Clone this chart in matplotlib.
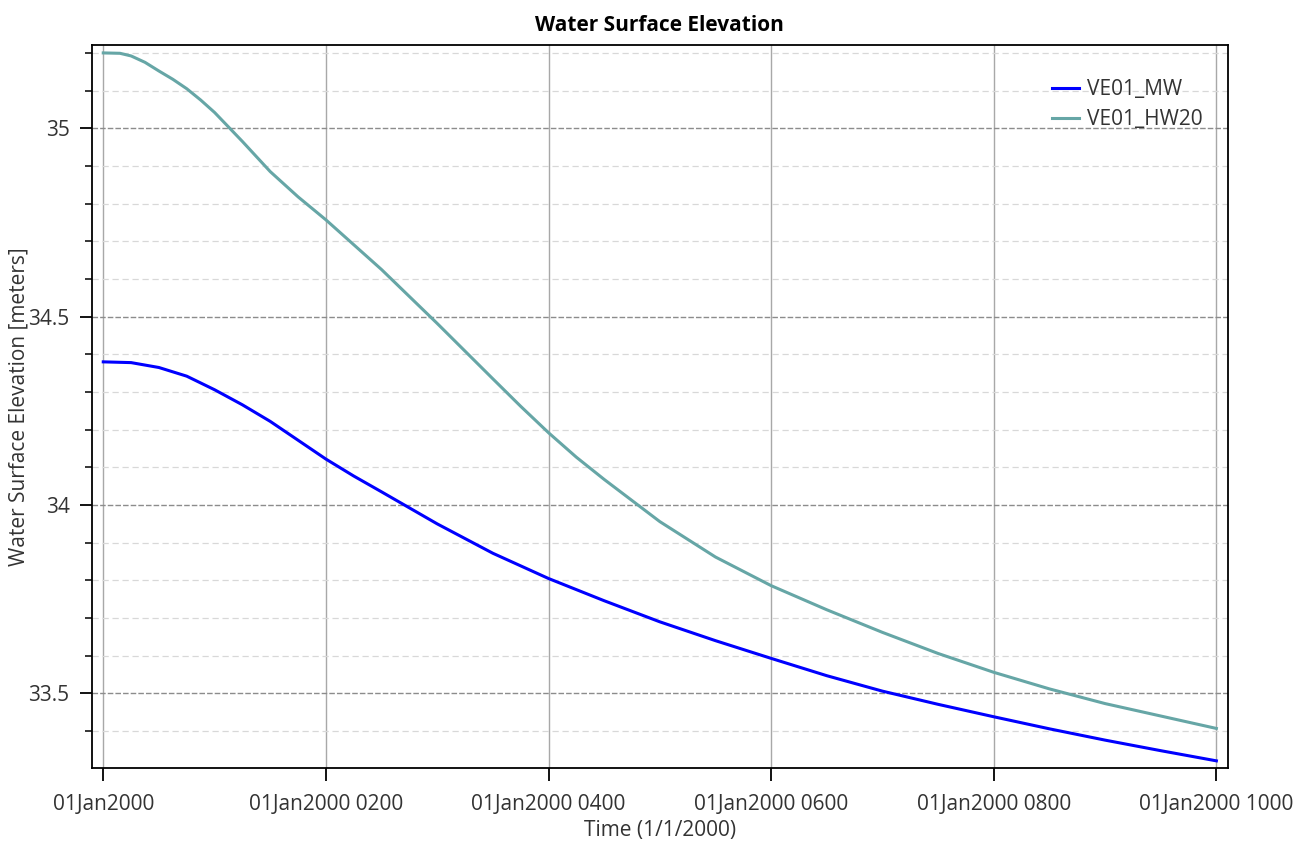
import numpy as np
import matplotlib
matplotlib.use('Agg')
import matplotlib.pyplot as plt
from matplotlib.ticker import MultipleLocator

# hours after 01Jan2000 0000
hours_mw = [0, 0.25, 0.5, 0.75, 1, 1.25, 1.5, 1.75, 2, 2.25, 2.5, 3, 3.5,
            4, 4.5, 5, 5.5, 6, 6.5, 7, 7.5, 8, 8.5, 9, 9.5, 10]
ve01_mw = [34.380, 34.378, 34.365, 34.342, 34.306, 34.266, 34.222, 34.172,
           34.122, 34.077, 34.035, 33.950, 33.872, 33.805, 33.746, 33.690,
           33.640, 33.593, 33.547, 33.506, 33.471, 33.438, 33.406, 33.376,
           33.348, 33.321]

hours_hw = [0, 0.15, 0.25, 0.375, 0.5, 0.625, 0.75, 0.875, 1, 1.25, 1.5,
            1.75, 2, 2.5, 3, 3.5, 3.75, 4, 4.25, 4.5, 5, 5.5, 6, 6.5, 7,
            7.5, 8, 8.5, 9, 9.5, 10]
ve01_hw20 = [35.200, 35.199, 35.192, 35.175, 35.152, 35.130, 35.105, 35.075,
             35.042, 34.965, 34.885, 34.818, 34.757, 34.625, 34.482, 34.335,
             34.262, 34.192, 34.127, 34.068, 33.956, 33.862, 33.786, 33.722,
             33.662, 33.606, 33.556, 33.512, 33.473, 33.440, 33.407]

tick_hours = [0, 2, 4, 6, 8, 10]
tick_labels = ['01Jan2000', '01Jan2000 0200', '01Jan2000 0400',
               '01Jan2000 0600', '01Jan2000 0800', '01Jan2000 1000']

plt.rcParams['font.family'] = ['Open Sans', 'DejaVu Sans']

fig = plt.figure(figsize=(12.95, 8.46), dpi=100)
ax = fig.add_axes([0.0708, 0.0922, 0.8775, 0.8546])
ax.set_xlim(-0.104, 10.105)
ax.set_ylim(33.302, 35.221)

ax.plot(hours_mw, ve01_mw, '-', color='#0000FF', lw=2.2, label='VE01_MW',
        zorder=3)
ax.plot(hours_hw, ve01_hw20, '-', color='#66A6A6', lw=2.2, label='VE01_HW20',
        zorder=3)

ax.set_xticks(tick_hours)
ax.set_xticklabels(tick_labels)
ax.yaxis.set_minor_locator(MultipleLocator(0.1))
ax.set_yticks([33.5, 34, 34.5, 35])
ax.set_yticklabels(['33.5', '34', '34.5', '35'])

ax.tick_params(axis='both', which='major', length=9, width=1.3, color='black',
               labelsize=15, labelcolor='#333333', pad=7)
ax.tick_params(axis='y', which='minor', length=5, width=1.1, color='black')
ax.tick_params(axis='x', pad=10)

ax.grid(axis='x', which='major', color='#A8A8A8', lw=1.0, ls='-')
ax.grid(axis='y', which='major', color='#8C8C8C', lw=1.0, ls=(0, (4, 1.5)))
ax.grid(axis='y', which='minor', color='#D8D8D8', lw=0.9, ls=(0, (5, 3)))
ax.set_axisbelow(True)

for s in ax.spines.values():
    s.set_color('black')
    s.set_linewidth(1.3)

ax.set_title('Water Surface Elevation', fontsize=15, fontweight='bold',
             color='black', pad=10)
ax.set_xlabel('Time (1/1/2000)', fontsize=15, color='#333333', labelpad=3)
ax.set_ylabel('Water Surface Elevation [meters]', fontsize=15,
              color='#333333')
ax.yaxis.set_label_coords(-0.055, 0.5)

ax.legend(loc='upper right', bbox_to_anchor=(0.994, 0.979), frameon=False,
          fontsize=15, handlelength=1.3, handletextpad=0.38,
          labelspacing=0.44, labelcolor='#333333')

fig.savefig('out.png', dpi=100)
